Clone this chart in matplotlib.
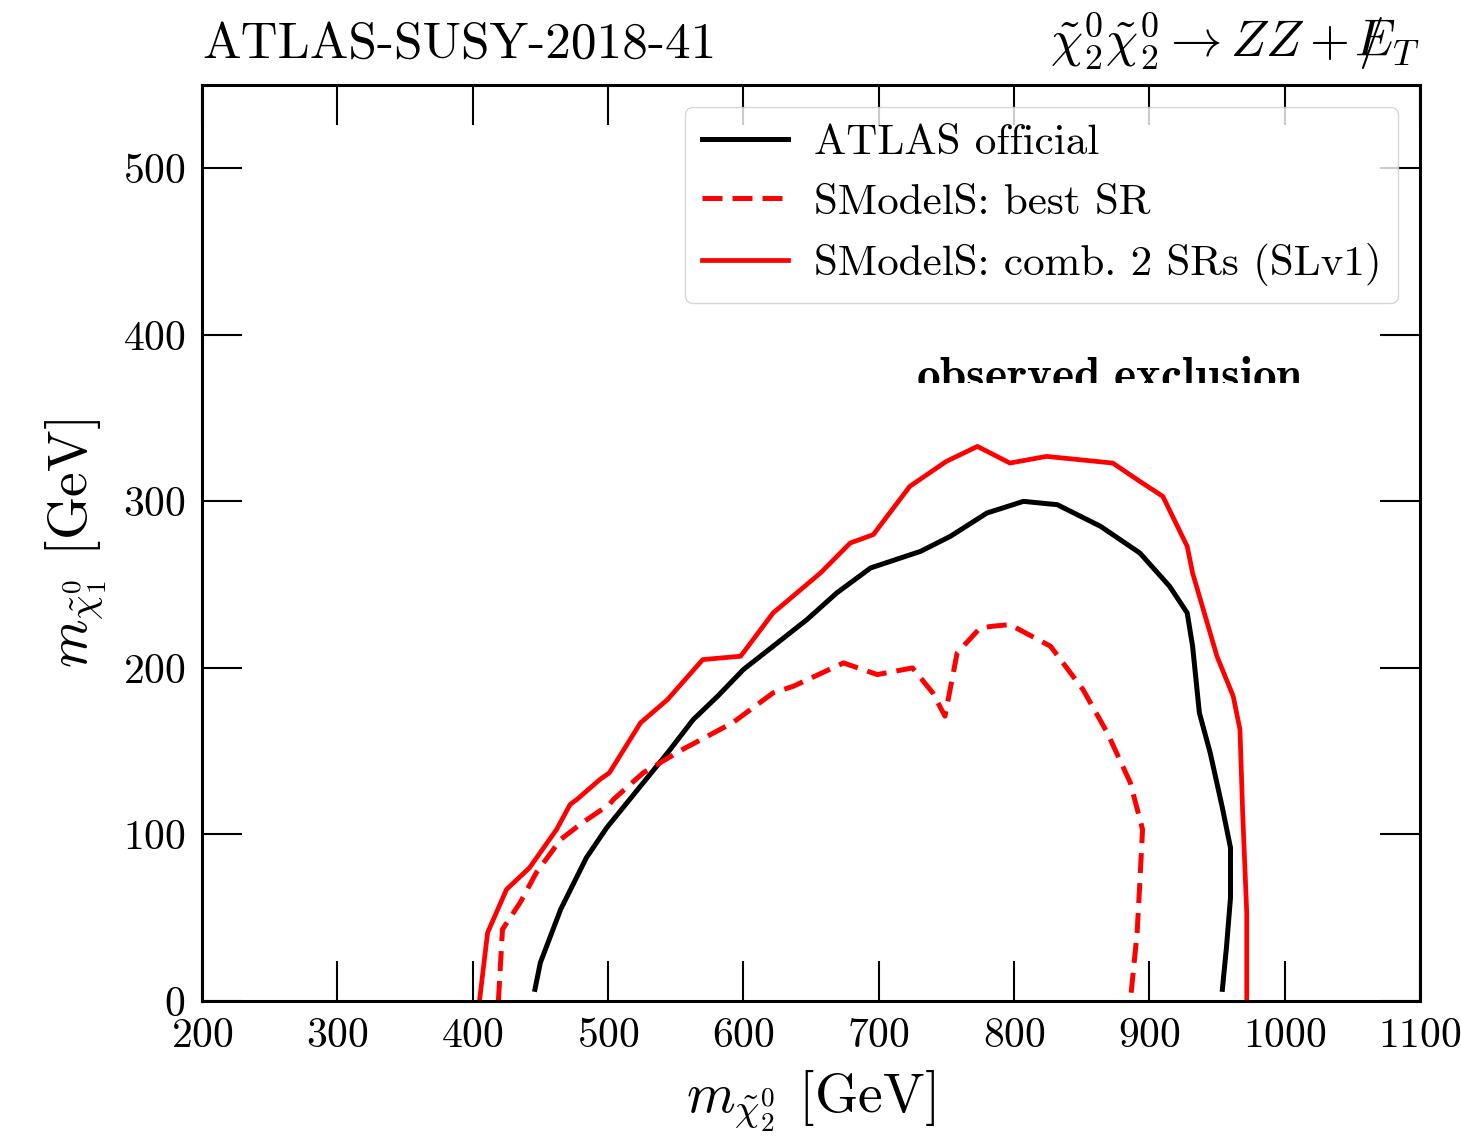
import matplotlib
matplotlib.use("Agg")
import matplotlib.pyplot as plt
from matplotlib.transforms import Bbox, TransformedBbox

plt.rcParams['font.family'] = 'serif'
plt.rcParams['font.serif'] = ['cmr10', 'DejaVu Serif']
plt.rcParams['mathtext.fontset'] = 'cm'
plt.rcParams['axes.formatter.use_mathtext'] = True

# ATLAS official observed exclusion
atlas_x = [446, 450, 465, 484, 499, 516, 529, 544, 563, 581, 600, 622, 647, 669, 694, 731,
           753, 780, 807, 832, 864, 893, 915, 928, 932, 937, 945, 954, 960, 960, 957, 954]
atlas_y = [7, 23, 55, 86, 104, 121, 134, 149, 169, 183, 199, 213, 229, 245, 260, 270,
           279, 293, 300, 298, 285, 269, 249, 233, 213, 173, 149, 116, 92, 62, 32, 7]

# SModelS best SR
best_x = [419, 422, 435, 447, 465, 481, 501, 504, 526, 555, 592, 622, 637, 674, 699, 725,
          740, 749, 758, 775, 784, 797, 827, 851, 869, 886, 895, 893, 891, 886]
best_y = [0, 43, 59, 77, 97, 107, 118, 121, 137, 151, 167, 185, 189, 203, 196, 200,
          185, 171, 209, 224, 225, 226, 213, 187, 161, 131, 103, 71, 41, 0]

# SModelS combined 2 SRs (SLv1)
comb_x = [405, 411, 425, 442, 462, 472, 477, 494, 501, 524, 544, 570, 598, 622, 657, 679,
          696, 723, 750, 773, 797, 824, 873, 893, 910, 928, 932, 950, 962, 967, 969, 972, 972]
comb_y = [0, 41, 67, 80, 103, 118, 121, 133, 137, 167, 181, 205, 207, 233, 257, 275,
          280, 309, 324, 333, 323, 327, 323, 312, 303, 273, 257, 207, 183, 163, 113, 53, 0]

fig = plt.figure(figsize=(14.61, 11.38), dpi=100)
ax = fig.add_axes([0.1383, 0.1204, 0.8336, 0.8049])

ax.plot(atlas_x, atlas_y, color='black', lw=3.6, label='ATLAS official')
ax.plot(best_x, best_y, color='red', lw=3.6, ls=(0, (4, 2)), label='SModelS: best SR')
ax.plot(comb_x, comb_y, color='red', lw=3.4, label='SModelS: comb. 2 SRs (SLv1)')

ax.set_xlim(200, 1100)
ax.set_ylim(0, 550)
ax.set_xticks(range(200, 1101, 100))
ax.set_yticks(range(0, 501, 100))
ax.tick_params(direction='in', length=29, width=1.5, top=True, right=True,
               labelsize=30, pad=12)
for s in ax.spines.values():
    s.set_linewidth(2.2)

ax.set_xlabel(r'$m_{\tilde{\chi}_2^0}$ [GeV]', fontsize=40, labelpad=10)
ax.set_ylabel(r'$m_{\tilde{\chi}_1^0}$ [GeV]', fontsize=40, labelpad=10)

ax.set_title('ATLAS-SUSY-2018-41', loc='left', fontsize=37, pad=20)
ax.set_title(r'$\tilde{\chi}_2^0\tilde{\chi}_2^0 \rightarrow ZZ + /\!\!\!\!E_T$',
             loc='right', fontsize=37, pad=20)

# label is cut off at the bottom in the original
t = ax.text(871, 367, r'$\mathbf{observed\ exclusion}$', fontsize=34,
            ha='center', va='baseline')
t.set_clip_box(TransformedBbox(Bbox([[600, 371], [1100, 471]]), ax.transData))
t.set_clip_on(True)

ax.legend(loc='upper right', fontsize=31, handlelength=2.0, borderpad=0.4,
          labelspacing=0.5, handletextpad=0.6, borderaxespad=0.5, fancybox=True)

fig.savefig('out.png', dpi=100)
